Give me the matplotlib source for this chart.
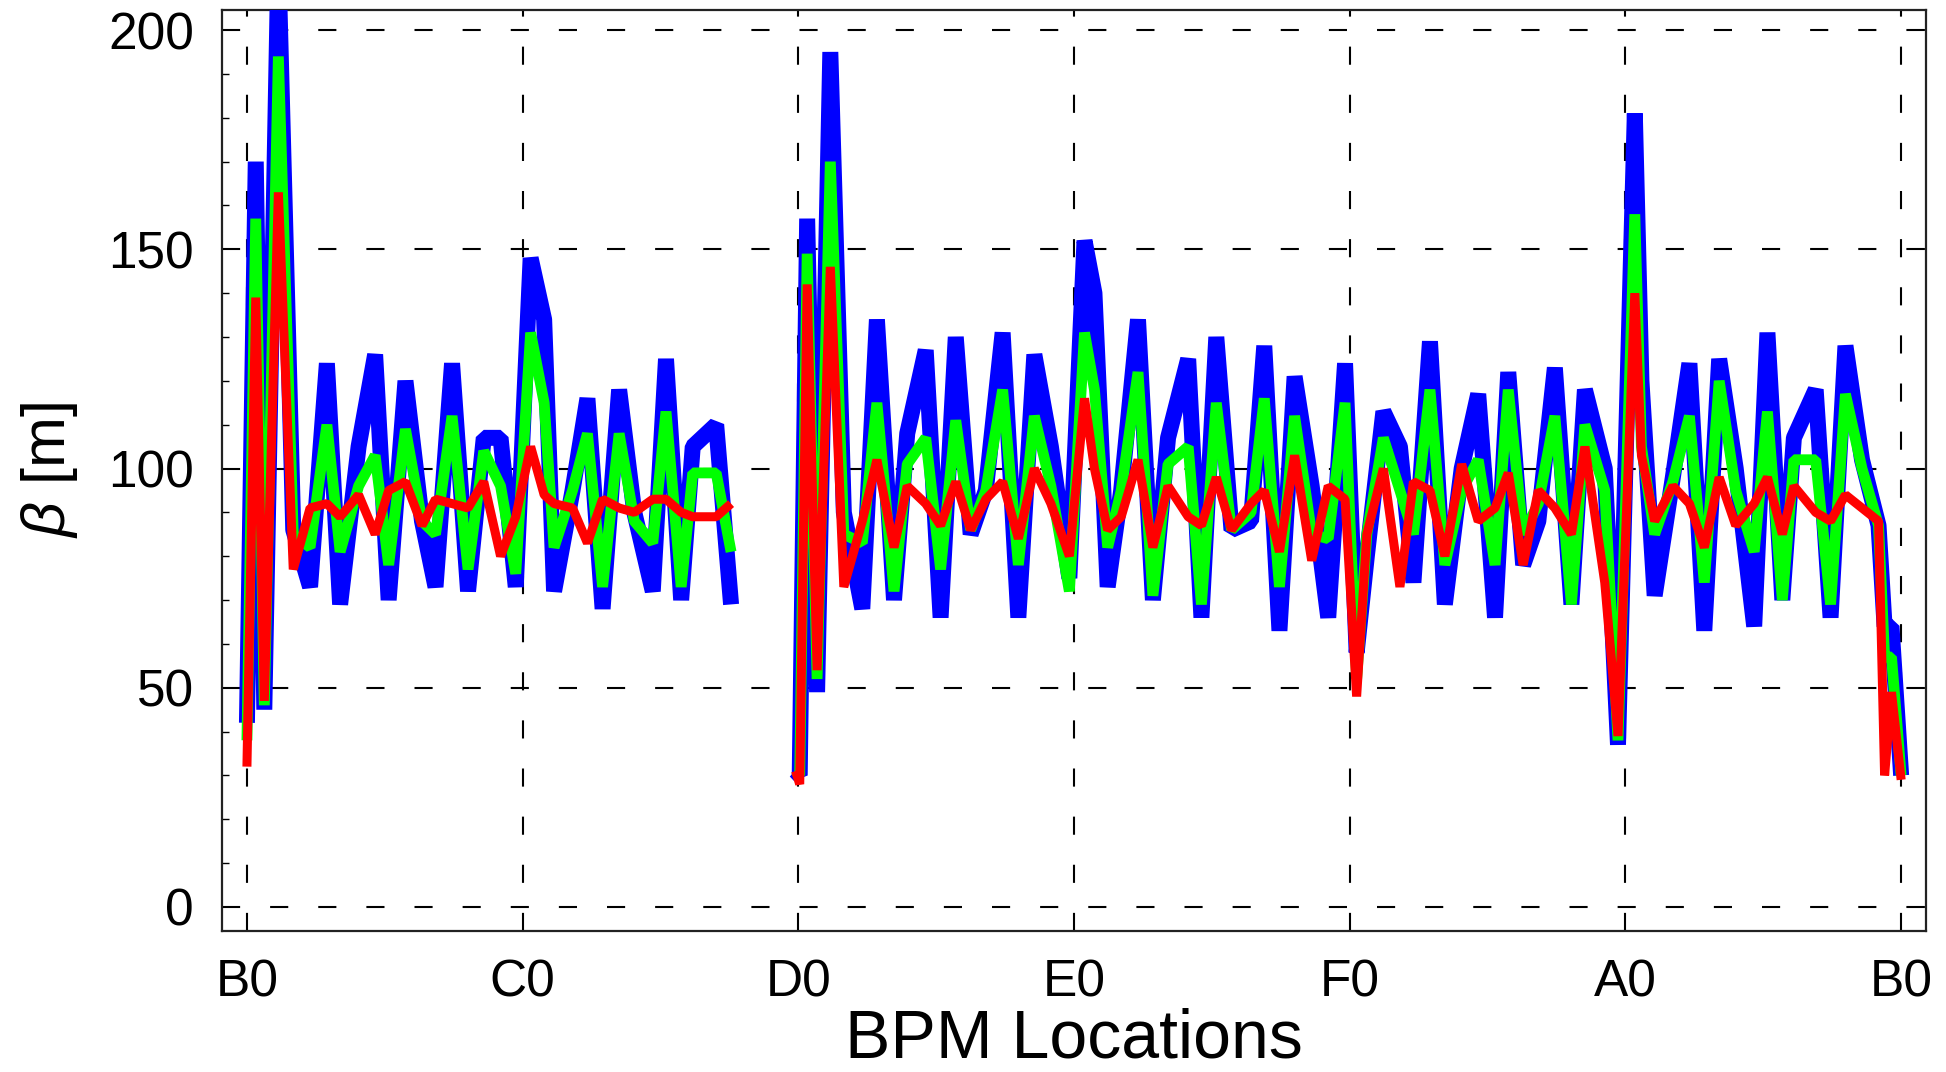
import numpy as np
import matplotlib
matplotlib.use("Agg")
import matplotlib.pyplot as plt

# ---------------- DATA ----------------
# BPM positions in sector units (B0=0, C0=1, ... B0=6); NaN breaks the line at the C0-D0 gap
bpm_s_bc = [0.0, 0.032, 0.063, 0.114, 0.168, 0.229, 0.290, 0.338, 0.405, 0.465, 0.514,
            0.575, 0.635, 0.684, 0.744, 0.802, 0.859, 0.920, 0.975, 1.029, 1.078, 1.114,
            1.181, 1.235, 1.290, 1.350, 1.405, 1.472, 1.520, 1.575, 1.617, 1.702, 1.756]
bpm_s_db = [1.99, 2.005, 2.032, 2.068, 2.116, 2.165, 2.232, 2.285, 2.347, 2.395, 2.462,
            2.516, 2.571, 2.625, 2.680, 2.741, 2.798, 2.856, 2.916, 2.983, 3.038, 3.074,
            3.122, 3.171, 3.232, 3.286, 3.341, 3.414, 3.462, 3.516, 3.571, 3.642, 3.690,
            3.745, 3.800, 3.862, 3.922, 3.983, 4.025, 4.062, 4.122, 4.182, 4.231, 4.291,
            4.345, 4.406, 4.466, 4.527, 4.575, 4.629, 4.684, 4.744, 4.804, 4.853, 4.925,
            4.973, 5.034, 5.058, 5.106, 5.172, 5.232, 5.286, 5.340, 5.400, 5.467, 5.515,
            5.569, 5.611, 5.690, 5.744, 5.798, 5.858, 5.918, 5.940, 5.965, 6.0]

beta_blue_bc = [42, 170, 45, 215, 86, 73, 124, 69, 105, 126, 70, 120, 88, 73, 124, 72, 107,
                107, 73, 148, 134, 72, 95, 116, 68, 118, 90, 72, 125, 70, 105, 110, 69]
beta_blue_db = [31, 30, 157, 49, 195, 90, 68, 134, 70, 108, 127, 66, 130, 85, 95, 131, 66,
                126, 105, 75, 152, 140, 73, 95, 134, 70, 107, 125, 66, 130, 86, 88, 128, 63,
                121, 96, 66, 124, 58, 80, 113, 105, 74, 129, 69, 100, 117, 66, 122, 78, 88,
                123, 69, 118, 100, 37, 181, 120, 71, 98, 124, 63, 125, 100, 64, 131, 70, 107,
                118, 66, 128, 102, 87, 64, 64, 30]

beta_green_bc = [38, 157, 46, 194, 85, 82, 110, 81, 96, 103, 78, 109, 88, 85, 112, 77, 104,
                 96, 76, 131, 115, 82, 95, 108, 73, 108, 88, 83, 113, 73, 99, 99, 81]
beta_green_db = [31, 30, 149, 52, 170, 85, 83, 115, 72, 101, 107, 77, 111, 86, 95, 118, 78,
                 112, 96, 72, 131, 118, 82, 95, 122, 71, 101, 105, 69, 115, 86, 90, 116, 73,
                 112, 85, 84, 115, 52, 85, 107, 95, 85, 118, 78, 95, 102, 78, 118, 85, 92,
                 112, 69, 110, 95, 38, 158, 105, 85, 97, 112, 74, 120, 95, 81, 113, 70, 102,
                 102, 69, 117, 100, 87, 57, 57, 30]

beta_red_bc = [32, 139, 47, 163, 77, 91, 92, 89, 94, 85, 95, 97, 87, 93, 92, 91, 97,
               80, 89, 105, 94, 92, 91, 83, 93, 91, 90, 93, 93, 90, 89, 89, 92]
beta_red_db = [31, 28, 142, 54, 146, 73, 88, 102, 82, 96, 92, 87, 97, 86, 93, 97, 84,
               100, 92, 80, 116, 100, 86, 89, 102, 82, 96, 89, 87, 98, 86, 92, 95, 81,
               103, 79, 96, 93, 48, 85, 100, 73, 97, 95, 80, 101, 88, 91, 99, 78, 95,
               91, 85, 105, 74, 39, 140, 103, 88, 96, 92, 82, 98, 87, 92, 98, 85, 96,
               90, 88, 94, 91, 88, 30, 49, 29]

sector_ticks = [0, 1, 2, 3, 4, 5, 6]
sector_labels = ["B0", "C0", "D0", "E0", "F0", "A0", "B0"]

# ---------------- STYLE ----------------
plt.rcParams['font.family'] = ['Liberation Sans', 'DejaVu Sans']
plt.rcParams['mathtext.fontset'] = 'custom'
plt.rcParams['mathtext.it'] = 'Liberation Sans:italic'
plt.rcParams['mathtext.rm'] = 'Liberation Sans'

fig = plt.figure(figsize=(19.46, 10.72), dpi=100)
ax = fig.add_axes([0.114, 0.1315, 0.8757, 0.8592])

x = bpm_s_bc + [np.nan] + bpm_s_db
series = [
    (beta_blue_bc + [np.nan] + beta_blue_db, "#0000ff", 11.5),
    (beta_green_bc + [np.nan] + beta_green_db, "#00ff00", 7.8),
    (beta_red_bc + [np.nan] + beta_red_db, "#ff0000", 6.5),
]
for y, col, lw in series:
    ax.plot(x, y, color=col, linewidth=lw, solid_joinstyle='bevel',
            solid_capstyle='butt', zorder=3)

# ---------------- AXES ----------------
ax.set_xlim(-0.091, 6.09)
ax.set_ylim(-5.5, 204.6)
ax.set_xticks(sector_ticks)
ax.set_xticklabels(sector_labels)
ax.set_yticks([0, 50, 100, 150, 200])
ax.set_yticks(np.arange(0, 201, 10), minor=True)

ax.grid(True, which='major', color='black', linestyle=(0, (8.7, 14.4)),
        linewidth=1.5, zorder=1)
ax.set_axisbelow(True)

ax.tick_params(axis='both', which='major', direction='in', length=12, width=1.2,
               labelsize=37, pad=20, right=True)
ax.tick_params(axis='y', which='minor', direction='in', length=5, width=1.0)
ax.tick_params(axis='x', which='minor', bottom=False)

for sp in ax.spines.values():
    sp.set_linewidth(1.6)
    sp.set_color('#222222')

ax.set_xlabel("BPM Locations", fontsize=49, labelpad=0)
ax.set_ylabel(r"$\beta$ [m]", fontsize=44, labelpad=20)

fig.savefig("out.png", dpi=100)
